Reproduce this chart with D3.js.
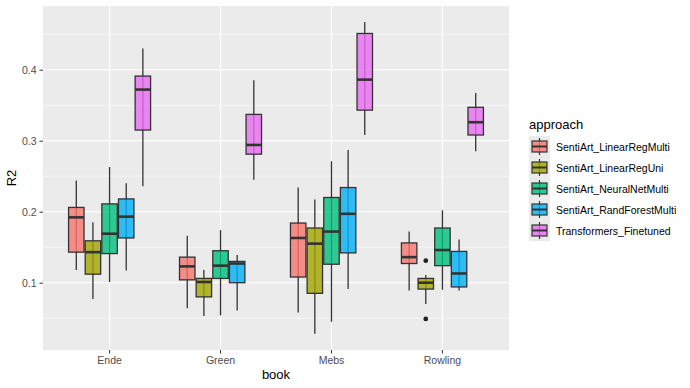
<!DOCTYPE html>
<html>
<head>
<meta charset="utf-8">
<script src="https://cdn.jsdelivr.net/npm/d3@7"></script>
<style>
  body { margin: 0; background: #fff; }
  svg { font-family: "Liberation Sans", Arial, sans-serif; }
  .tick text { fill: #4d4d4d; font-size: 10.5px; font-family: "Liberation Sans", Arial, sans-serif; }
  .tick line { stroke: #333; }
</style>
</head>
<body>
<svg width="690" height="388"></svg>
<script>
// Data: [lower whisker, q1, median, q3, upper whisker]
let books = ["Ende", "Green", "Mebs", "Rowling"];
let approaches = ["SentiArt_LinearRegMulti", "SentiArt_LinearRegUni", "SentiArt_NeuralNetMulti",
                  "SentiArt_RandForestMulti", "Transformers_Finetuned"];
let colors = ["#F8766D", "#A3A500", "#00BF7D", "#00B0F6", "#E76BF3"];

let linearRegMulti = [
    [0.118, 0.143, 0.192, 0.206, 0.244],
    [0.064, 0.104, 0.123, 0.136, 0.166],
    [0.058, 0.108, 0.163, 0.184, 0.234],
    [0.089, 0.127, 0.136, 0.156, 0.172]
];
let linearRegUni = [
    [0.077, 0.112, 0.143, 0.159, 0.185],
    [0.053, 0.080, 0.101, 0.106, 0.118],
    [0.028, 0.085, 0.155, 0.177, 0.217],
    [0.070, 0.091, 0.100, 0.106, 0.111]
];
let neuralNetMulti = [
    [0.101, 0.141, 0.169, 0.211, 0.263],
    [0.054, 0.106, 0.124, 0.145, 0.174],
    [0.045, 0.126, 0.172, 0.220, 0.271],
    [0.090, 0.124, 0.146, 0.177, 0.202]
];
let randForestMulti = [
    [0.117, 0.163, 0.193, 0.218, 0.240],
    [0.061, 0.100, 0.127, 0.130, 0.139],
    [0.091, 0.142, 0.197, 0.234, 0.287],
    [0.089, 0.094, 0.113, 0.144, 0.161]
];
let transformers = [
    [0.236, 0.315, 0.372, 0.391, 0.430],
    [0.245, 0.281, 0.294, 0.337, 0.385],
    [0.308, 0.343, 0.386, 0.451, 0.467],
    [0.285, 0.308, 0.326, 0.347, 0.367]
];
// outliers: [book, approach index, value]
let outliers = [["Rowling", 1, 0.131], ["Rowling", 1, 0.049]];

let yTicks = [0.1, 0.2, 0.3, 0.4];
let yMinor = [0.05, 0.15, 0.25, 0.35, 0.45];

let series = [linearRegMulti, linearRegUni, neuralNetMulti, randForestMulti, transformers];

// Layout
let svg = d3.select("svg");
let panelLeft = 43, panelRight = 509, panelTop = 6, panelBottom = 350;

let xScale = d3.scaleBand()
    .domain(books)
    .range([panelLeft, panelRight])
    .paddingOuter(0.1)
    .paddingInner(0);

let yScale = d3.scaleLinear()
    .domain([0.0052, 0.4897])
    .range([panelBottom, panelTop]);

let bw = xScale.bandwidth();
let dodge = d3.scaleBand()
    .domain(d3.range(approaches.length))
    .range([-0.375 * bw, 0.375 * bw]);
let boxW = dodge.bandwidth();

// Panel background and grid
svg.append("rect")
    .attr("x", panelLeft).attr("y", panelTop)
    .attr("width", panelRight - panelLeft).attr("height", panelBottom - panelTop)
    .attr("fill", "#EBEBEB");

svg.selectAll("line.minor")
    .data(yMinor)
    .enter().append("line")
    .attr("x1", panelLeft).attr("x2", panelRight)
    .attr("y1", function(d) { return yScale(d); })
    .attr("y2", function(d) { return yScale(d); })
    .attr("stroke", "#fff").attr("stroke-width", 0.6);

svg.selectAll("line.major")
    .data(yTicks)
    .enter().append("line")
    .attr("x1", panelLeft).attr("x2", panelRight)
    .attr("y1", function(d) { return yScale(d); })
    .attr("y2", function(d) { return yScale(d); })
    .attr("stroke", "#fff").attr("stroke-width", 1.2);

svg.selectAll("line.vgrid")
    .data(books)
    .enter().append("line")
    .attr("x1", function(d) { return xScale(d) + bw / 2; })
    .attr("x2", function(d) { return xScale(d) + bw / 2; })
    .attr("y1", panelTop).attr("y2", panelBottom)
    .attr("stroke", "#fff").attr("stroke-width", 1.2);

// Axes
let yAxis = d3.axisLeft(yScale)
    .tickValues(yTicks)
    .tickFormat(d3.format(".1f"))
    .tickSize(3.5)
    .tickPadding(3);

svg.append("g")
    .attr("transform", "translate(" + panelLeft + ",0)")
    .call(yAxis)
    .call(function(g) { g.select(".domain").remove(); });

let xAxis = d3.axisBottom(xScale)
    .tickSize(3.5)
    .tickPadding(3);

svg.append("g")
    .attr("transform", "translate(0," + panelBottom + ")")
    .call(xAxis)
    .call(function(g) { g.select(".domain").remove(); });

svg.append("text")
    .attr("x", (panelLeft + panelRight) / 2).attr("y", 379)
    .attr("text-anchor", "middle")
    .attr("font-size", 13)
    .attr("fill", "#000")
    .text("book");

svg.append("text")
    .attr("transform", "translate(16," + ((panelTop + panelBottom) / 2) + ") rotate(-90)")
    .attr("text-anchor", "middle")
    .attr("font-size", 13)
    .attr("fill", "#000")
    .text("R2");

// Boxes
let stroke = "#333";
let boxData = [];
series.forEach(function(s, j) {
    s.forEach(function(v, i) {
        boxData.push({ book: books[i], a: j, v: v });
    });
});

let cx = function(d) { return xScale(d.book) + bw / 2 + dodge(d.a) + boxW / 2; };

let boxes = svg.selectAll("g.box")
    .data(boxData)
    .enter().append("g")
    .attr("class", "box");

boxes.append("line")
    .attr("x1", cx).attr("x2", cx)
    .attr("y1", function(d) { return yScale(d.v[0]); })
    .attr("y2", function(d) { return yScale(d.v[4]); })
    .attr("stroke", stroke).attr("stroke-width", 1.3);

boxes.append("rect")
    .attr("x", function(d) { return cx(d) - boxW / 2 + 0.6; })
    .attr("width", boxW - 1.2)
    .attr("y", function(d) { return yScale(d.v[3]); })
    .attr("height", function(d) { return yScale(d.v[1]) - yScale(d.v[3]); })
    .attr("fill", function(d) { return colors[d.a]; })
    .attr("fill-opacity", 0.8)
    .attr("stroke", stroke).attr("stroke-width", 1.3);

boxes.append("line")
    .attr("x1", function(d) { return cx(d) - boxW / 2 + 0.6; })
    .attr("x2", function(d) { return cx(d) + boxW / 2 - 0.6; })
    .attr("y1", function(d) { return yScale(d.v[2]); })
    .attr("y2", function(d) { return yScale(d.v[2]); })
    .attr("stroke", stroke).attr("stroke-width", 2.6);

svg.selectAll("circle.outlier")
    .data(outliers)
    .enter().append("circle")
    .attr("cx", function(d) { return cx({ book: d[0], a: d[1] }); })
    .attr("cy", function(d) { return yScale(d[2]); })
    .attr("r", 2.4)
    .attr("fill", "#222");

// Legend
let legend = svg.append("g").attr("transform", "translate(529,0)");

legend.append("text")
    .attr("x", 0).attr("y", 129)
    .attr("font-size", 13)
    .attr("fill", "#000")
    .text("approach");

let items = legend.selectAll("g.item")
    .data(approaches)
    .enter().append("g")
    .attr("transform", function(d, i) { return "translate(0," + (136 + i * 21) + ")"; });

items.append("rect")
    .attr("width", 21).attr("height", 21)
    .attr("fill", "#EBEBEB");

items.append("line")
    .attr("x1", 10.5).attr("x2", 10.5)
    .attr("y1", 2).attr("y2", 19)
    .attr("stroke", stroke).attr("stroke-width", 1.2);

items.append("rect")
    .attr("x", 3).attr("y", 5)
    .attr("width", 15).attr("height", 11)
    .attr("fill", function(d, i) { return colors[i]; })
    .attr("fill-opacity", 0.8)
    .attr("stroke", stroke).attr("stroke-width", 1.2);

items.append("line")
    .attr("x1", 3).attr("x2", 18)
    .attr("y1", 10.5).attr("y2", 10.5)
    .attr("stroke", stroke).attr("stroke-width", 2);

items.append("text")
    .attr("x", 27).attr("y", 14.5)
    .attr("font-size", 10.5)
    .attr("fill", "#000")
    .text(function(d) { return d; });
</script>
</body>
</html>
